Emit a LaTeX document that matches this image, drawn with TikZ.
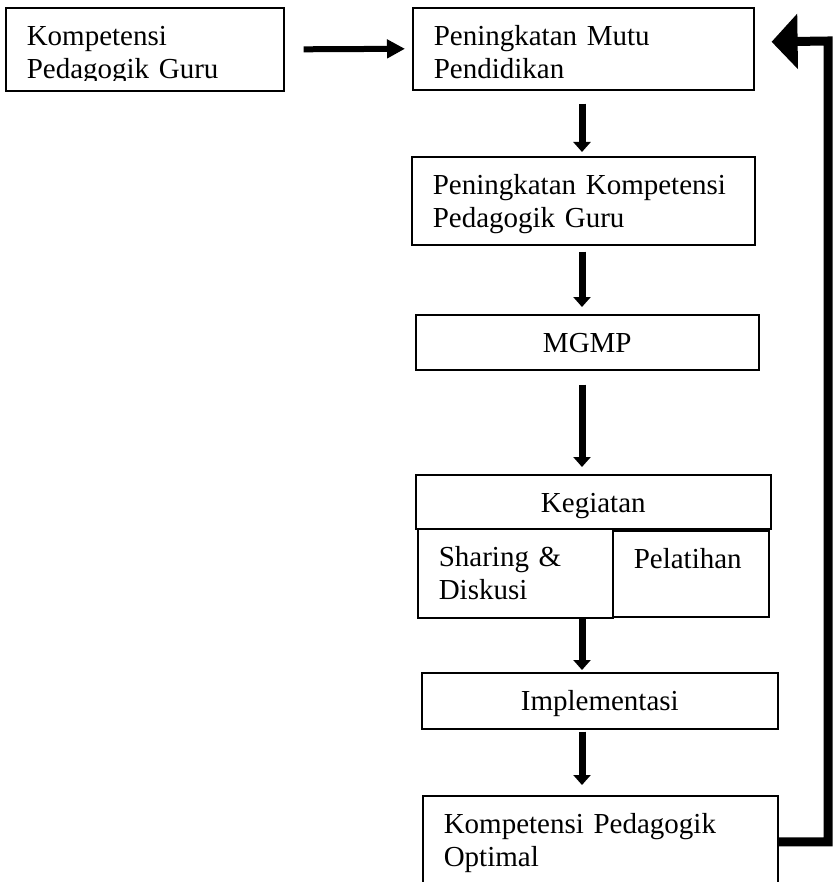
\documentclass[tikz,border=0pt]{standalone}
\usepackage{fontspec}
\setmainfont{Liberation Serif}
\usetikzlibrary{arrows.meta,calc}

\begin{document}
\begin{tikzpicture}[x=0.5pt, y=-0.5pt,
    box/.style={draw, line width=0.8pt, anchor=north west, align=left,
      inner xsep=10.5pt, inner ysep=0pt, text height=19pt,
      font=\fontsize{14.5}{16.5}\selectfont},
    arr/.style={line width=3.5pt, -{Triangle[width=8.5pt, length=5pt]}},
    sidearr/.style={line width=3pt, -{Triangle[width=9pt, length=9pt]}},
    loop/.style={line width=4.5pt, line join=miter, -{Triangle[width=27pt, length=13pt]}}]
      \clip (0,0) rectangle (833,882);
      % input and goal
      \node[box, text width=118pt, text depth=22.5pt] (kompetensi) at (5,7) {Kompetensi\\Pedagogik Guru};
      \fill[white] ($(kompetensi.south west)+(3,-2)$) rectangle ($(kompetensi.south east)+(-3,-11)$);
      \node[box, text width=149.5pt, text depth=22pt] (mutu) at (412,7) {Peningkatan Mutu\\Pendidikan};
      % main column
      \node[box, text width=150.5pt, text depth=25pt] (peningkatan) at (411,156) {Peningkatan Kompetensi\\Pedagogik Guru};
      \node[box, text width=150.5pt, align=center, text depth=8.5pt] (mgmp) at (415,314) {MGMP};
      \node[box, text width=156.5pt, align=center, text depth=8pt] (kegiatan) at (415,474) {Kegiatan};
      \node[box, text width=76.5pt, text depth=25.5pt] (sharing) at (417,528) {Sharing \&\\Diskusi};
      \node[box, text width=57pt, text depth=24pt] (pelatihan) at (612,530) {Pelatihan};
      \node[box, text width=157pt, align=center, text depth=9pt] (implementasi) at (421,672) {Implementasi};
      \node[box, text width=156.5pt, text depth=27pt] (optimal) at (422,795) {Kompetensi Pedagogik\\Optimal};
      % arrows
      \coordinate (spine) at (582,0);
      \coordinate (corner) at (828,41);
      \draw[sidearr] ($(kompetensi.east)+(19,0)$) -- ($(mutu.west)+(-7,0)$);
      \draw[arr] ($(mutu.south -| spine)+(0,13)$) -- ($(peningkatan.north -| spine)+(0,-4)$);
      \draw[arr] ($(peningkatan.south -| spine)+(0,6)$) -- ($(mgmp.north -| spine)+(0,-7)$);
      \draw[arr] ($(mgmp.south -| spine)+(0,14)$) -- ($(kegiatan.north -| spine)+(0,-7)$);
      \draw[arr] (sharing.south -| spine) -- ($(implementasi.north -| spine)+(0,-2)$);
      \draw[arr] ($(implementasi.south -| spine)+(0,2)$) -- ($(optimal.north -| spine)+(0,-10)$);
      % feedback loop
      \draw[loop] (optimal.east) -| (corner) -- ($(mutu.east)+(17,-7)$);
\end{tikzpicture}
\end{document}
